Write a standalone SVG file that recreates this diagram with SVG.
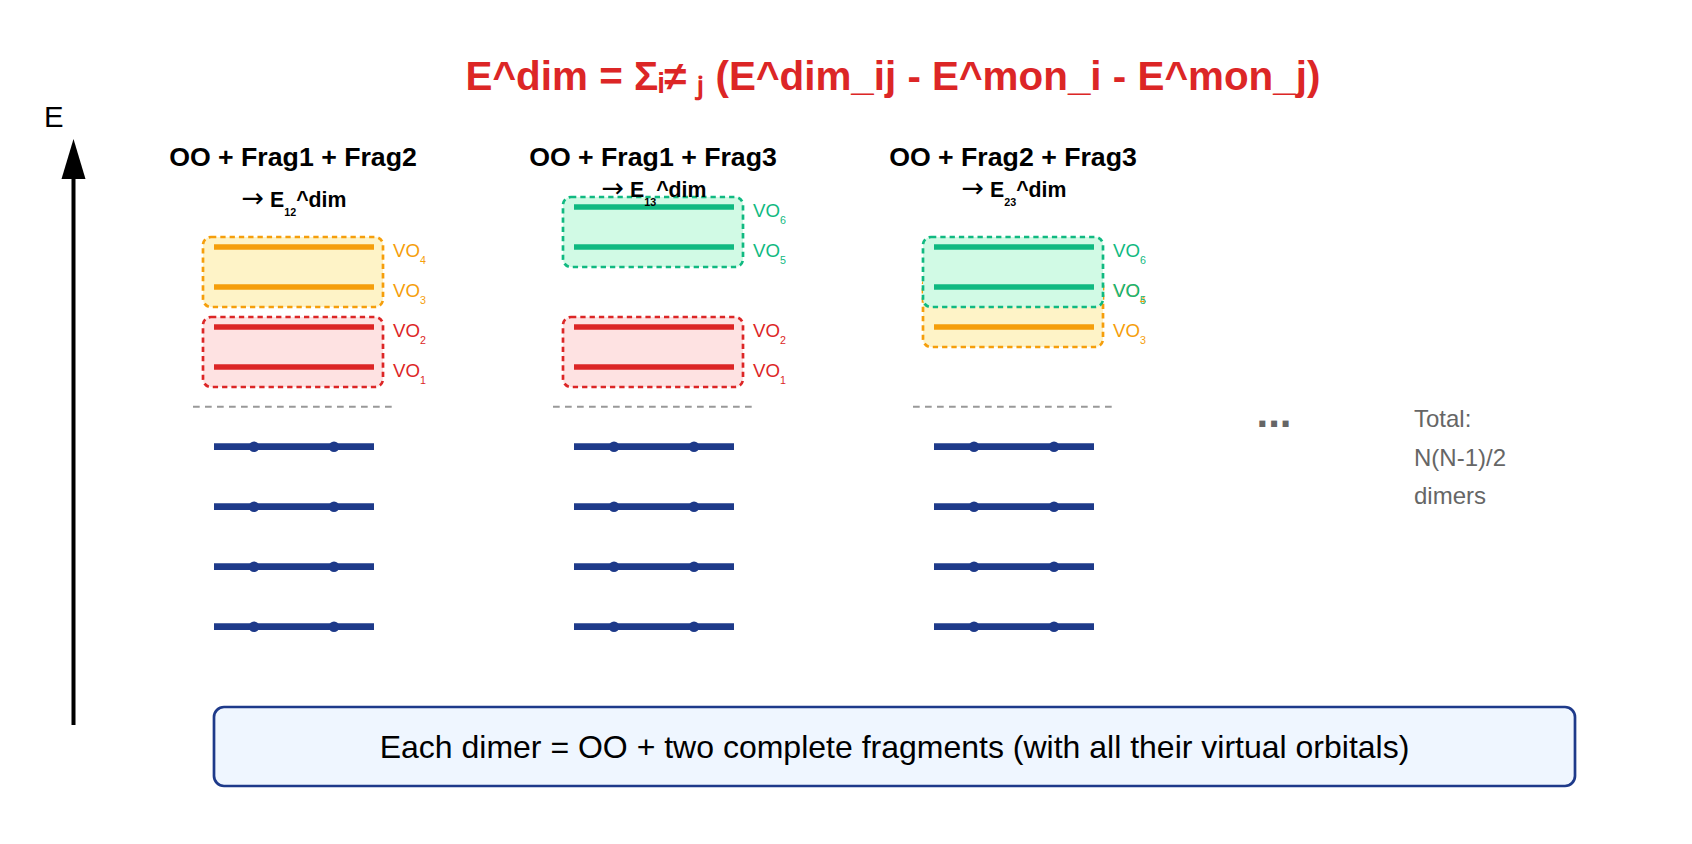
<svg xmlns="http://www.w3.org/2000/svg" width="1692" height="844" viewBox="0 0 1692 844">
<defs>
<style>
text{font-family:"Liberation Sans",Arial,sans-serif}
.ttl{font-size:26.7px;font-weight:bold;fill:#000;text-anchor:middle}
.sub{font-size:21.3px;font-weight:bold;fill:#000;text-anchor:middle}
.arr{font-family:"DejaVu Sans",sans-serif;font-weight:normal;font-size:27px}
.sm{font-size:10.7px}
.vo{font-size:18.7px}
.bo{fill:#fef3c7;stroke:#f59e0b;stroke-width:2.7;stroke-dasharray:5.3 4}
.br{fill:#fee2e2;stroke:#dc2626;stroke-width:2.7;stroke-dasharray:5.3 4}
.bg{fill:#d1fae5;stroke:#10b981;stroke-width:2.7;stroke-dasharray:5.3 4}
.lo{stroke:#f59e0b;stroke-width:5.3}
.lr{stroke:#dc2626;stroke-width:5.3}
.lg{stroke:#10b981;stroke-width:5.3}
.to{fill:#f59e0b}.tr{fill:#dc2626}.tg{fill:#10b981}
.sep{stroke:#999;stroke-width:2;stroke-dasharray:6.7 5.3}
.occ{stroke:#1e3a8a;stroke-width:6.7}
.dot{fill:#1e3a8a}
.gray{fill:#666;font-size:24px}
</style>
<g id="occset">
<line class="occ" x1="214" y1="446.7" x2="374" y2="446.7"/><circle class="dot" cx="254" cy="446.7" r="5.3"/><circle class="dot" cx="334" cy="446.7" r="5.3"/>
<line class="occ" x1="214" y1="506.7" x2="374" y2="506.7"/><circle class="dot" cx="254" cy="506.7" r="5.3"/><circle class="dot" cx="334" cy="506.7" r="5.3"/>
<line class="occ" x1="214" y1="566.7" x2="374" y2="566.7"/><circle class="dot" cx="254" cy="566.7" r="5.3"/><circle class="dot" cx="334" cy="566.7" r="5.3"/>
<line class="occ" x1="214" y1="626.7" x2="374" y2="626.7"/><circle class="dot" cx="254" cy="626.7" r="5.3"/><circle class="dot" cx="334" cy="626.7" r="5.3"/>
<line class="sep" x1="193" y1="406.7" x2="394" y2="406.7"/>
</g>
</defs>
<rect width="1692" height="844" fill="#fff"/>

<g id="formula">
<text x="893" y="90" text-anchor="middle" font-size="40.4" font-weight="bold" fill="#dc2626">E^dim = Σᵢ≠ ⱼ (E^dim_ij - E^mon_i - E^mon_j)</text>
</g>

<g id="axis">
<text x="44" y="127" font-size="29.3" fill="#000">E</text>
<line x1="73.5" y1="725" x2="73.5" y2="170" stroke="#000" stroke-width="4"/>
<polygon points="73.5,139 61.5,179 85.5,179" fill="#000"/>
</g>

<g id="dimer12">
<text class="ttl" x="293" y="166">OO + Frag1 + Frag2</text>
<text class="sub" x="294" y="207"><tspan class="arr">→</tspan> E<tspan class="sm" dy="8.5">12</tspan><tspan dy="-8.5">^dim</tspan></text>
<rect class="bo" x="203" y="237" width="180" height="70" rx="8"/>
<line class="lo" x1="214" y1="247" x2="374" y2="247"/>
<line class="lo" x1="214" y1="287" x2="374" y2="287"/>
<text class="vo to" x="393" y="257">VO<tspan class="sm" dy="6.5">4</tspan></text>
<text class="vo to" x="393" y="297">VO<tspan class="sm" dy="6.5">3</tspan></text>
<rect class="br" x="203" y="317" width="180" height="70" rx="8"/>
<line class="lr" x1="214" y1="327" x2="374" y2="327"/>
<line class="lr" x1="214" y1="367" x2="374" y2="367"/>
<text class="vo tr" x="393" y="337">VO<tspan class="sm" dy="6.5">2</tspan></text>
<text class="vo tr" x="393" y="377">VO<tspan class="sm" dy="6.5">1</tspan></text>
<use href="#occset"/>
</g>

<g id="dimer13">
<text class="ttl" x="653" y="166">OO + Frag1 + Frag3</text>
<rect class="bg" x="563" y="197" width="180" height="70" rx="8"/>
<line class="lg" x1="574" y1="207" x2="734" y2="207"/>
<line class="lg" x1="574" y1="247" x2="734" y2="247"/>
<text class="sub" x="654" y="197"><tspan class="arr">→</tspan> E<tspan class="sm" dy="8.5">13</tspan><tspan dy="-8.5">^dim</tspan></text>
<text class="vo tg" x="753" y="217">VO<tspan class="sm" dy="6.5">6</tspan></text>
<text class="vo tg" x="753" y="257">VO<tspan class="sm" dy="6.5">5</tspan></text>
<rect class="br" x="563" y="317" width="180" height="70" rx="8"/>
<line class="lr" x1="574" y1="327" x2="734" y2="327"/>
<line class="lr" x1="574" y1="367" x2="734" y2="367"/>
<text class="vo tr" x="753" y="337">VO<tspan class="sm" dy="6.5">2</tspan></text>
<text class="vo tr" x="753" y="377">VO<tspan class="sm" dy="6.5">1</tspan></text>
<use href="#occset" x="360"/>
</g>

<g id="dimer23">
<text class="ttl" x="1013" y="166">OO + Frag2 + Frag3</text>
<text class="sub" x="1014" y="197"><tspan class="arr">→</tspan> E<tspan class="sm" dy="8.5">23</tspan><tspan dy="-8.5">^dim</tspan></text>
<rect class="bo" x="923" y="277" width="180" height="70" rx="8"/>
<line class="lo" x1="934" y1="287" x2="1094" y2="287"/>
<line class="lo" x1="934" y1="327" x2="1094" y2="327"/>
<text class="vo to" x="1113" y="297">VO<tspan class="sm" dy="6.5">4</tspan></text>
<text class="vo to" x="1113" y="337">VO<tspan class="sm" dy="6.5">3</tspan></text>
<rect class="bg" x="923" y="237" width="180" height="70" rx="8"/>
<line class="lg" x1="934" y1="247" x2="1094" y2="247"/>
<line class="lg" x1="934" y1="287" x2="1094" y2="287"/>
<text class="vo tg" x="1113" y="257">VO<tspan class="sm" dy="6.5">6</tspan></text>
<text class="vo tg" x="1113" y="297">VO<tspan class="sm" dy="6.5">5</tspan></text>
<use href="#occset" x="720"/>
</g>

<g id="more">
<text x="1274" y="427" text-anchor="middle" font-size="42" font-weight="bold" fill="#666">...</text>
<text class="gray" x="1414" y="427">Total:</text>
<text class="gray" x="1414" y="466">N(N-1)/2</text>
<text class="gray" x="1414" y="504">dimers</text>
</g>

<g id="note">
<rect x="214" y="707" width="1361" height="79" rx="10" fill="#eff6ff" stroke="#1e3a8a" stroke-width="2.7"/>
<text x="894.5" y="758" text-anchor="middle" font-size="32" fill="#000">Each dimer = OO + two complete fragments (with all their virtual orbitals)</text>
</g>

<g id="connectors"></g>
</svg>
